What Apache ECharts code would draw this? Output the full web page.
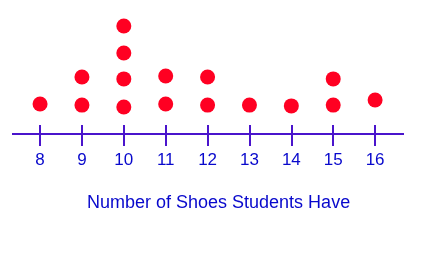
<!DOCTYPE html>
<html>
<head>
<meta charset="utf-8">
<script src="https://cdn.jsdelivr.net/npm/echarts@6/dist/echarts.min.js"></script>
<style>html,body{margin:0;padding:0;background:#fff}#c{width:424px;height:253px}</style>
</head>
<body>
<div id="c"></div>
<script>
// Shoe counts (tick labels / categories)
const shoeValues = [8, 9, 10, 11, 12, 13, 14, 15, 16];
// Stack level of each dot above the axis (as drawn, slightly uneven)
const dotShoes  = [8,    9,    9,    10,   10,   10,   10,   11,   11,   12,   12,   13,   14,   15,   15,   16];
const dotLevels = [1.11, 1.07, 2.11, 1.0,  2.04, 3.0,  4.0,  1.11, 2.15, 1.07, 2.11, 1.07, 1.04, 1.07, 2.04, 1.26];
const axisTitle = 'Number of Shoes Students Have';

const chart = echarts.init(document.getElementById('c'), null, {renderer: 'canvas'});
const axisColor = '#4a14cc';
const textColor = '#0808cc';
chart.setOption({
  animation: false,
  backgroundColor: '#ffffff',
  grid: {left: 12, right: 20, top: 12.5, bottom: 107},
  title: {
    text: axisTitle,
    left: 82,
    top: 189,
    textStyle: {fontFamily: 'Liberation Sans, Arial, sans-serif', fontSize: 18, fontWeight: 'normal', color: textColor}
  },
  xAxis: {
    type: 'value',
    min: 7.33,
    max: 16.69,
    axisLine: {show: false, onZero: false},
    splitLine: {show: false},
    axisTick: {show: true, inside: true, length: 21, customValues: shoeValues,
               lineStyle: {color: axisColor, width: 2}},
    axisLabel: {show: true, customValues: shoeValues, margin: 6,
                fontFamily: 'Liberation Sans, Arial, sans-serif', fontSize: 17, color: textColor}
  },
  yAxis: {
    type: 'value',
    min: -0.4444,
    max: 4.5,
    show: false
  },
  series: [{
    type: 'scatter',
    symbol: 'circle',
    symbolSize: 15,
    itemStyle: {color: '#ff0022', opacity: 1},
    data: dotShoes.map((s, i) => [s, dotLevels[i]]),
    markLine: {
      silent: true,
      symbol: ['none', 'none'],
      label: {show: false},
      lineStyle: {color: axisColor, width: 2, type: 'solid'},
      data: [{yAxis: 0}]
    }
  }]
});
</script>
</body>
</html>
